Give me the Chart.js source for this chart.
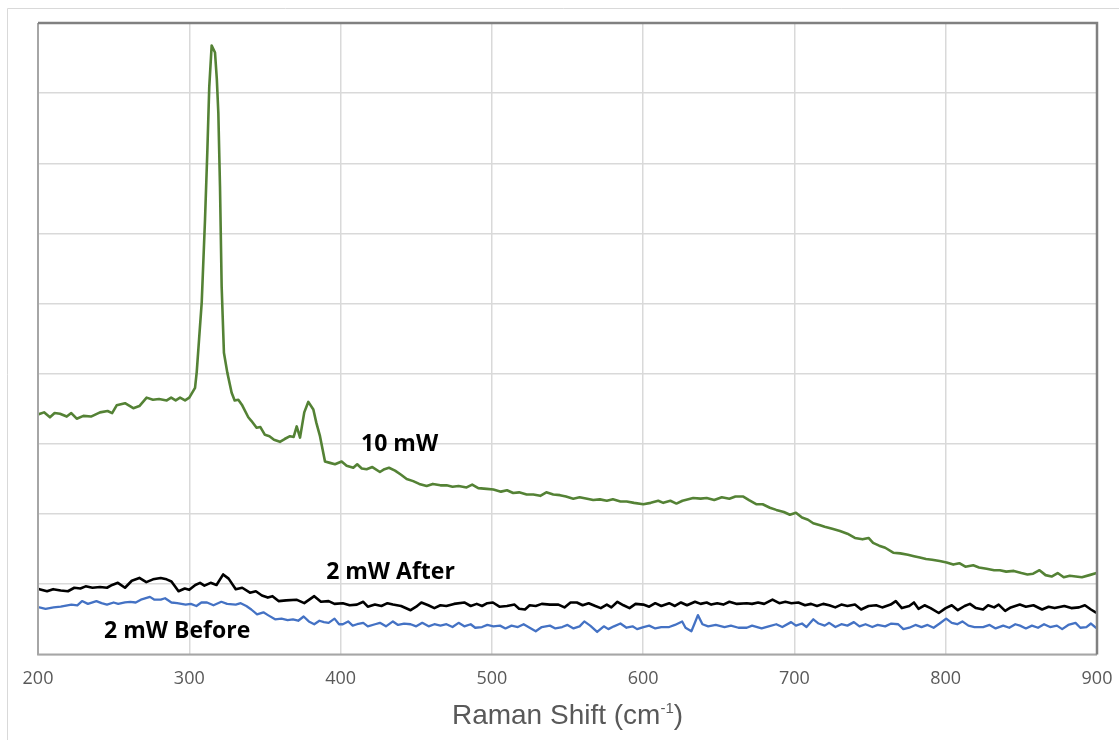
<!DOCTYPE html>
<html>
<head>
<meta charset="utf-8">
<script src="https://cdn.jsdelivr.net/npm/chart.js@4.4.1/dist/chart.umd.min.js"></script>
<style>
  html, body { margin: 0; padding: 0; background: #fff; }
  #wrap { position: relative; width: 1119px; height: 740px; }
</style>
</head>
<body>
<div id="wrap"><canvas id="raman" width="1119" height="740"></canvas></div>
<script>
// x axis (Raman shift, cm-1)
const shiftMin = 200;
const shiftMax = 900;
const shiftStep = 100;

// 10 mW
const shift10mW = [
    200, 204, 207.9, 211, 214.5, 219, 222, 225.6, 230, 235,
    241, 246, 249, 252, 257.5, 263, 267, 271.8, 276, 280,
    285.1, 288, 291, 293.9, 297.2, 300, 303.8, 304.9, 306.5, 308.2,
    310.4, 311.9, 313.2, 314.8, 317, 318.2, 319.2, 320.3, 321.4, 322.9,
    325.1, 328, 330, 332.4, 335, 339, 341, 344.5, 347, 350,
    353, 356, 359.9, 363, 366.6, 369, 371, 373.2, 376, 378.7,
    382, 384, 386.4, 389.7, 393, 396.3, 400.7, 404, 408.4, 411,
    414, 417.2, 421, 426, 429, 432, 436, 440, 443.7, 448,
    452, 456.9, 461, 466, 470.1, 474, 478, 483.3, 487, 491,
    496.6, 501, 506, 510, 514.1, 518, 523, 527.4, 532, 536,
    540.6, 545, 549, 553.8, 558, 563, 567, 571.4, 576, 580,
    585, 589.1, 594, 600.1, 605, 610, 613.3, 618, 622, 626,
    633.1, 638, 642, 647, 652, 657, 661, 666.2, 670, 675,
    679, 683.8, 688, 693, 697, 701, 705, 709, 712.4, 717,
    720, 725, 730.1, 735, 740, 745, 749, 752, 756, 760,
    765.3, 770, 775, 779, 782.9, 787, 791, 796, 800.6, 805,
    809, 813, 818.2, 822, 827, 832, 835.8, 840, 845, 850,
    854, 857.8, 862, 866, 870, 874, 878, 882, 886, 890,
    895, 899.7
];
const int10mW = [
    3.42, 3.45, 3.38, 3.44, 3.43, 3.39, 3.44, 3.36, 3.40, 3.39,
    3.45, 3.47, 3.44, 3.55, 3.58, 3.51, 3.54, 3.66, 3.63, 3.64,
    3.62, 3.66, 3.62, 3.66, 3.62, 3.66, 3.80, 4.02, 4.50, 5.01,
    6.20, 7.15, 8.09, 8.68, 8.58, 8.20, 7.72, 6.67, 5.24, 4.30,
    4.02, 3.73, 3.62, 3.63, 3.55, 3.38, 3.33, 3.23, 3.24, 3.13,
    3.11, 3.06, 3.03, 3.07, 3.11, 3.10, 3.25, 3.09, 3.45, 3.60,
    3.49, 3.30, 3.11, 2.75, 2.73, 2.71, 2.75, 2.69, 2.66, 2.71,
    2.65, 2.64, 2.67, 2.60, 2.64, 2.66, 2.62, 2.56, 2.50, 2.47,
    2.43, 2.40, 2.43, 2.41, 2.41, 2.39, 2.40, 2.38, 2.42, 2.37,
    2.36, 2.35, 2.32, 2.34, 2.30, 2.31, 2.28, 2.28, 2.26, 2.31,
    2.28, 2.27, 2.25, 2.22, 2.24, 2.22, 2.20, 2.21, 2.19, 2.21,
    2.18, 2.18, 2.16, 2.14, 2.16, 2.19, 2.16, 2.19, 2.15, 2.19,
    2.23, 2.22, 2.23, 2.20, 2.24, 2.22, 2.25, 2.25, 2.20, 2.14,
    2.14, 2.09, 2.06, 2.03, 1.99, 2.02, 1.95, 1.92, 1.87, 1.84,
    1.82, 1.79, 1.76, 1.72, 1.66, 1.64, 1.66, 1.59, 1.55, 1.52,
    1.45, 1.44, 1.42, 1.40, 1.38, 1.36, 1.35, 1.33, 1.31, 1.28,
    1.30, 1.25, 1.27, 1.24, 1.22, 1.20, 1.20, 1.18, 1.19, 1.16,
    1.14, 1.15, 1.20, 1.13, 1.11, 1.16, 1.10, 1.12, 1.11, 1.10,
    1.13, 1.16
];

// 2 mW After
const shiftAfter = [
    200.9, 206, 210, 215, 219.8, 224, 228, 231.5, 236, 241,
    245.6, 249, 252.8, 257.5, 262, 267, 271.6, 276, 281.1, 285,
    288.2, 292.9, 297, 300, 304, 307.1, 310, 314.1, 318, 322.4,
    326, 330.7, 335, 340.1, 344, 348, 351.9, 355, 359, 364,
    370.8, 376, 382.6, 387, 392.1, 396, 401.5, 406, 410.8, 415,
    418, 422.7, 427, 431, 434.6, 440, 446.3, 450, 453.4, 458,
    462, 466, 469.9, 475, 481.8, 486, 490, 493.5, 497, 500.7,
    505, 510, 515, 518, 521.9, 525, 529, 533, 538.4, 544,
    548, 552, 556.2, 560, 564, 568.4, 572, 576, 579, 583,
    587, 591, 595, 600.1, 604, 608, 612, 617.2, 621, 625,
    629, 634.3, 638, 642, 645, 649, 653, 657, 662, 668.5,
    672, 676, 680, 685.5, 690, 694, 698, 702.6, 707, 711,
    714.9, 719, 723, 727, 731, 735, 740, 744.1, 749, 754,
    758, 763.6, 767, 771, 775.9, 779, 782, 786, 790, 795.4,
    800, 804, 808, 812.5, 816, 820, 824.7, 828, 832, 835,
    839.3, 843, 849, 853, 858, 863.7, 868, 872, 878.4, 883,
    888.1, 892, 896, 899.1
];
const intAfter = [
    0.93, 0.90, 0.93, 0.91, 0.90, 0.95, 0.94, 0.97, 0.95, 0.96,
    0.95, 0.99, 1.02, 0.95, 1.05, 1.09, 1.03, 1.07, 1.09, 1.07,
    1.04, 0.90, 0.94, 0.92, 0.99, 1.02, 0.98, 1.02, 0.99, 1.14,
    1.08, 0.93, 0.95, 0.88, 0.90, 0.84, 0.81, 0.83, 0.76, 0.77,
    0.78, 0.73, 0.83, 0.75, 0.76, 0.72, 0.73, 0.70, 0.71, 0.75,
    0.68, 0.71, 0.69, 0.73, 0.71, 0.69, 0.63, 0.68, 0.74, 0.70,
    0.66, 0.70, 0.69, 0.72, 0.74, 0.69, 0.72, 0.69, 0.73, 0.74,
    0.68, 0.69, 0.71, 0.65, 0.64, 0.70, 0.69, 0.72, 0.71, 0.71,
    0.67, 0.74, 0.74, 0.70, 0.73, 0.69, 0.66, 0.71, 0.67, 0.75,
    0.70, 0.66, 0.72, 0.71, 0.68, 0.73, 0.69, 0.73, 0.69, 0.74,
    0.70, 0.75, 0.72, 0.74, 0.71, 0.73, 0.71, 0.75, 0.72, 0.73,
    0.72, 0.74, 0.72, 0.78, 0.73, 0.75, 0.73, 0.74, 0.70, 0.72,
    0.69, 0.72, 0.70, 0.67, 0.71, 0.69, 0.71, 0.64, 0.69, 0.70,
    0.67, 0.71, 0.76, 0.66, 0.69, 0.74, 0.65, 0.70, 0.66, 0.59,
    0.66, 0.70, 0.63, 0.69, 0.72, 0.66, 0.64, 0.70, 0.67, 0.71,
    0.62, 0.67, 0.71, 0.68, 0.70, 0.64, 0.68, 0.66, 0.69, 0.66,
    0.67, 0.70, 0.64, 0.60
];

// 2 mW Before
const shiftBefore = [
    200.9, 205, 210.3, 215, 222.1, 226, 229.1, 233, 238.6, 242,
    245.6, 250, 253, 257.5, 261, 264.6, 268, 274, 277, 281.1,
    284, 288.2, 292, 297.6, 301, 304.7, 308, 311.7, 316, 321.2,
    325, 330.7, 334, 337.7, 341, 344.8, 349, 352, 356.7, 361,
    365, 368.5, 372, 375.6, 379, 382.6, 386, 389, 392.1, 396,
    399, 401.5, 405, 408, 410.9, 415, 418, 422.8, 426, 430,
    434.6, 438, 442, 446.3, 450, 454, 458.2, 462, 466, 470,
    474, 478, 481.8, 486, 489, 493.5, 497, 501, 505.4, 509,
    513, 517.2, 521, 525, 529, 533, 538.4, 542, 546.5, 550,
    554, 558, 561.1, 565, 569.6, 574, 577, 580.7, 585, 589,
    593, 596, 600.2, 604, 608, 612, 617.2, 621, 625.8, 628,
    631.9, 634, 636.2, 639.2, 643, 648, 653.8, 658, 663, 668.5,
    672, 678.3, 683, 688, 692, 697.8, 701, 705, 708, 712.5,
    716, 720, 723, 727.1, 731, 735, 739.3, 743, 747, 751.5,
    755, 760, 764, 768.6, 772, 775.9, 780, 784, 788, 792,
    796, 800.3, 804, 807.6, 811, 815, 819, 824.7, 829, 833,
    838, 842, 846, 849.1, 853, 857, 861, 865, 869, 873.5,
    877, 881, 885.8, 889, 893, 896, 899.2
];
const intBefore = [
    0.67, 0.65, 0.67, 0.68, 0.71, 0.70, 0.76, 0.72, 0.76, 0.73,
    0.71, 0.74, 0.72, 0.74, 0.75, 0.74, 0.78, 0.82, 0.78, 0.78,
    0.80, 0.74, 0.73, 0.71, 0.72, 0.69, 0.74, 0.74, 0.70, 0.75,
    0.72, 0.71, 0.73, 0.69, 0.64, 0.57, 0.60, 0.56, 0.50, 0.51,
    0.49, 0.50, 0.48, 0.54, 0.47, 0.43, 0.48, 0.46, 0.45, 0.51,
    0.43, 0.43, 0.47, 0.41, 0.43, 0.45, 0.40, 0.43, 0.45, 0.40,
    0.47, 0.42, 0.44, 0.43, 0.40, 0.45, 0.40, 0.43, 0.41, 0.43,
    0.39, 0.45, 0.40, 0.43, 0.38, 0.39, 0.42, 0.40, 0.41, 0.37,
    0.41, 0.39, 0.43, 0.38, 0.33, 0.39, 0.41, 0.37, 0.39, 0.42,
    0.37, 0.40, 0.47, 0.41, 0.32, 0.40, 0.36, 0.40, 0.44, 0.38,
    0.40, 0.36, 0.39, 0.41, 0.37, 0.39, 0.39, 0.42, 0.47, 0.38,
    0.33, 0.44, 0.56, 0.43, 0.40, 0.42, 0.39, 0.41, 0.38, 0.38,
    0.41, 0.37, 0.40, 0.43, 0.39, 0.46, 0.41, 0.44, 0.39, 0.50,
    0.44, 0.41, 0.45, 0.39, 0.43, 0.41, 0.46, 0.40, 0.43, 0.39,
    0.42, 0.40, 0.44, 0.43, 0.36, 0.38, 0.42, 0.39, 0.42, 0.38,
    0.44, 0.51, 0.45, 0.43, 0.47, 0.41, 0.39, 0.39, 0.42, 0.37,
    0.41, 0.38, 0.43, 0.41, 0.37, 0.41, 0.38, 0.43, 0.39, 0.41,
    0.36, 0.42, 0.45, 0.38, 0.39, 0.44, 0.38
];

// 曲线旁的标注（数据坐标）
const seriesLabels = ['10 mW', '2 mW After', '2 mW Before'];
const labelShift = [439, 433, 292];
const labelInt = [2.99, 1.17, 0.33];

function toPoints(xs, ys) {
    return xs.map((x, i) => ({ x: x, y: ys[i] }));
}

// 外框 + 绘图区边框 + 标注
const framePlugin = {
    id: 'frame',
    beforeDraw(chart) {
        const ctx = chart.ctx;
        ctx.save();
        ctx.strokeStyle = '#d9d9d9';
        ctx.lineWidth = 1;
        ctx.beginPath();
        ctx.moveTo(7.5, chart.height);
        ctx.lineTo(7.5, 8.5);
        ctx.lineTo(chart.width, 8.5);
        ctx.stroke();
        ctx.restore();
    },
    afterDatasetsDraw(chart) {
        const a = chart.chartArea;
        const ctx = chart.ctx;
        ctx.save();
        ctx.strokeStyle = '#a6a6a6';
        ctx.lineWidth = 2;
        ctx.beginPath();
        ctx.moveTo(a.left, a.top);
        ctx.lineTo(a.left, a.bottom);
        ctx.lineTo(a.right, a.bottom);
        ctx.stroke();
        ctx.strokeStyle = '#808080';
        ctx.lineWidth = 2.5;
        ctx.beginPath();
        ctx.moveTo(a.left, a.top);
        ctx.lineTo(a.right, a.top);
        ctx.lineTo(a.right, a.bottom);
        ctx.stroke();

        // series labels
        const xs = chart.scales.x, ys = chart.scales.y;
        ctx.fillStyle = '#000';
        ctx.font = 'bold 23px "Open Sans"';
        ctx.textAlign = 'center';
        ctx.textBaseline = 'middle';
        seriesLabels.forEach((t, i) => {
            ctx.fillText(t, xs.getPixelForValue(labelShift[i]), ys.getPixelForValue(labelInt[i]));
        });

        // x axis title with superscript
        const main = 'Raman Shift (cm';
        const sup = '-1';
        const tail = ')';
        ctx.font = '28px "Liberation Sans"';
        const wMain = ctx.measureText(main).width;
        const wTail = ctx.measureText(tail).width;
        ctx.font = '15px "Liberation Sans"';
        const wSup = ctx.measureText(sup).width;
        const total = wMain + wSup + wTail;
        let x0 = (a.left + a.right) / 2 - total / 2;
        const base = a.bottom + 70;
        ctx.fillStyle = '#595959';
        ctx.textAlign = 'left';
        ctx.textBaseline = 'alphabetic';
        ctx.font = '28px "Liberation Sans"';
        ctx.fillText(main, x0, base);
        ctx.font = '15px "Liberation Sans"';
        ctx.fillText(sup, x0 + wMain, base - 11);
        ctx.font = '28px "Liberation Sans"';
        ctx.fillText(tail, x0 + wMain + wSup, base);
        ctx.restore();
    }
};

const ctx = document.getElementById('raman').getContext('2d');
window.ramanChart = new Chart(ctx, {
    type: 'line',
    data: {
        datasets: [{
            label: '10 mW',
            data: toPoints(shift10mW, int10mW),
            borderColor: '#548235',
            borderWidth: 2.6
        }, {
            label: '2 mW After',
            data: toPoints(shiftAfter, intAfter),
            borderColor: '#000000',
            borderWidth: 2.6
        }, {
            label: '2 mW Before',
            data: toPoints(shiftBefore, intBefore),
            borderColor: '#4472C4',
            borderWidth: 2.3
        }]
    },
    options: {
        responsive: false,
        animation: false,
        devicePixelRatio: 1,
        elements: {
            point: { radius: 0 },
            line: { tension: 0, borderJoinStyle: 'round', borderCapStyle: 'round' }
        },
        layout: {
            padding: { left: 38, right: 22, top: 23, bottom: 36 }
        },
        plugins: {
            legend: { display: false },
            tooltip: { enabled: false }
        },
        scales: {
            x: {
                type: 'linear',
                min: shiftMin,
                max: shiftMax,
                border: { display: false },
                grid: {
                    color: '#d9d9d9',
                    lineWidth: 1.5,
                    drawTicks: false
                },
                ticks: {
                    stepSize: shiftStep,
                    padding: 14,
                    color: '#595959',
                    font: { family: '"Open Sans"', size: 18 }
                },
                // 让布局只用 layout.padding，不再为首尾刻度文字额外留边
                afterFit(scale) {
                    scale.paddingLeft = 0;
                    scale.paddingRight = 0;
                }
            },
            y: {
                min: 0,
                max: 9,
                border: { display: false },
                grid: {
                    color: '#d9d9d9',
                    lineWidth: 1.5,
                    drawTicks: false
                },
                ticks: {
                    display: false,
                    stepSize: 1
                }
            }
        }
    },
    plugins: [framePlugin]
});
</script>
</body>
</html>
